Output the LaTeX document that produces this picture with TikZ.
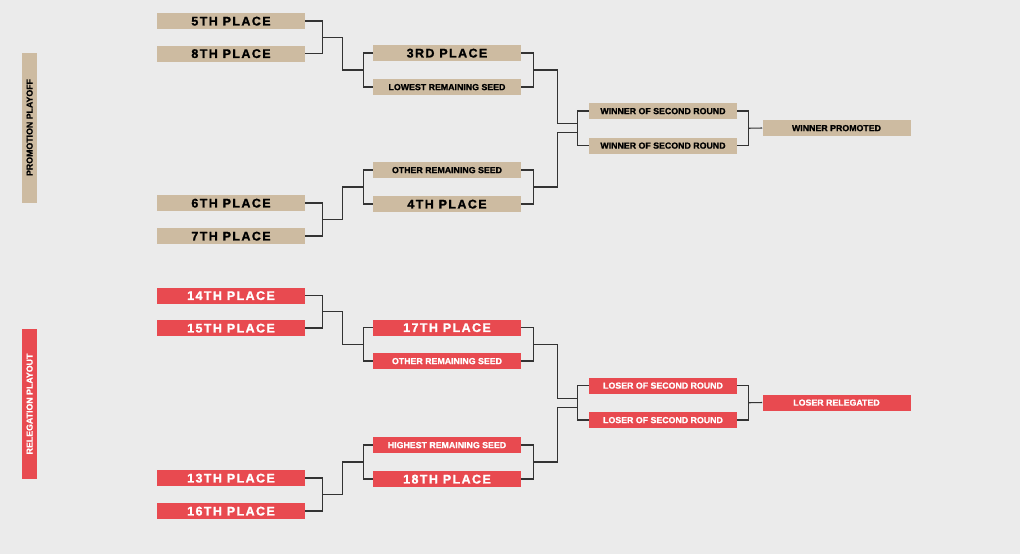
\documentclass[tikz,border=0pt]{standalone}
\usepackage{fontspec}
\setmainfont{Liberation Sans}[BoldFeatures={FakeBold=1.2}]
\newfontfamily\spacedfont{Liberation Sans}[LetterSpace=11, BoldFeatures={FakeBold=1.2}]
\usetikzlibrary{calc}

\definecolor{sand}{HTML}{CDBBA1}
\definecolor{alarm}{HTML}{E84A50}
\definecolor{paper}{HTML}{EBEBEB}
\definecolor{wire}{HTML}{333333}

\begin{document}
\begin{tikzpicture}[x=0.75pt, y=-0.75pt,
                    every node/.style={inner sep=0pt},
                    place/.style={minimum width=111pt, minimum height=12pt},
                    promo/.style={place, fill=sand, text=black},
                    releg/.style={place, fill=alarm, text=white},
                    bigtag/.style={font=\fontsize{9.4}{10}\spacedfont\bfseries,
                                   text height=6.7pt, text depth=0pt},
                    smalltag/.style={font=\fontsize{6.6}{7}\selectfont\bfseries,
                                     text height=4.7pt, text depth=0pt},
                    sidetag/.style={smalltag, rotate=90, minimum width=112.5pt,
                                    minimum height=11.25pt},
                    bracket/.style={draw=wire, line width=0.8pt}]

  % Background fixes the picture size
  \fill[paper] (0,0) rectangle (1020,554);

  % Side labels
  \node [sidetag, fill=sand, text=black] (promo label) at (29.5,127.5) {PROMOTION PLAYOFF};
  \node [sidetag, fill=alarm, text=white] (releg label) at (29.5,404) {RELEGATION PLAYOUT};

  % Promotion playoff slots
  \foreach \n/\x/\y/\s/\txt in {a1/231/21/bigtag/5TH PLACE, a2/231/53.5/bigtag/8TH PLACE,
                                 a3/231/203/bigtag/6TH PLACE, a4/231/236/bigtag/7TH PLACE,
                                 b1/447/53/bigtag/3RD PLACE, b2/447/87/smalltag/LOWEST REMAINING SEED,
                                 b3/447/170/smalltag/OTHER REMAINING SEED, b4/447/204/bigtag/4TH PLACE,
                                 c1/663/111/smalltag/WINNER OF SECOND ROUND,
                                 c2/663/145.5/smalltag/WINNER OF SECOND ROUND,
                                 d/836.5/128/smalltag/WINNER PROMOTED}
    \node [promo, \s] (p-\n) at (\x,\y) {\txt};

  % Relegation playout slots
  \foreach \n/\x/\y/\s/\txt in {a1/231/295.5/bigtag/14TH PLACE, a2/231/328/bigtag/15TH PLACE,
                                 a3/231/478/bigtag/13TH PLACE, a4/231/511/bigtag/16TH PLACE,
                                 b1/447/327.5/bigtag/17TH PLACE, b2/447/361/smalltag/OTHER REMAINING SEED,
                                 b3/447/445/smalltag/HIGHEST REMAINING SEED, b4/447/479/bigtag/18TH PLACE,
                                 c1/663/385.5/smalltag/LOSER OF SECOND ROUND,
                                 c2/663/420/smalltag/LOSER OF SECOND ROUND,
                                 d/836.5/402.5/smalltag/LOSER RELEGATED}
    \node [releg, \s] (r-\n) at (\x,\y) {\txt};

  % Connectors, same layout for both brackets
  \foreach \b in {p,r} {
    % First round into second round
    \foreach \i/\j/\k/\l in {a1/a2/b1/b2, a3/a4/b3/b4} {
      \draw [bracket] (\b-\i.east) -- ++(17,0) |- (\b-\j.east);
      \draw [bracket] (\b-\k.west) -- ++(-9,0) |- (\b-\l.west);
      \draw [bracket] ($(\b-\i.east)!.5!(\b-\j.east)+(17,0)$) -- ++(20,0)
                      |- ($(\b-\k.west)!.5!(\b-\l.west)+(-9,0)$);
    }
    % Second round into third round
    \draw [bracket] (\b-c1.west) -- ++(-11,0) |- (\b-c2.west);
    \foreach \i/\j/\dy in {b1/b2/-4.5, b3/b4/4.5} {
      \draw [bracket] (\b-\i.east) -- ++(12,0) |- (\b-\j.east);
      \draw [bracket] ($(\b-\i.east)!.5!(\b-\j.east)+(12,0)$) -- ++(24,0)
                      |- ($(\b-c1.west)!.5!(\b-c2.west)+(-11,\dy)$);
    }
    % Third round into final slot
    \draw [bracket] (\b-c1.east) -- ++(11,0) |- (\b-c2.east);
    \draw [bracket] ($(\b-c1.east)!.5!(\b-c2.east)+(11,0)$) -- (\b-d.west);
  }

\end{tikzpicture}
\end{document}
